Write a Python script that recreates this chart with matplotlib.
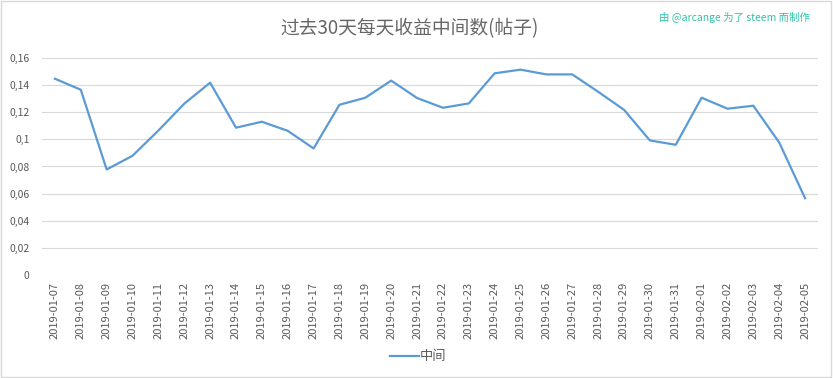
import numpy as np
import matplotlib.pyplot as plt
from matplotlib.ticker import FuncFormatter
from matplotlib.patches import Rectangle

plt.rcParams['font.family'] = ['Noto Sans CJK SC', 'DejaVu Sans']

# data
dates = ['2019-01-07', '2019-01-08', '2019-01-09', '2019-01-10', '2019-01-11',
         '2019-01-12', '2019-01-13', '2019-01-14', '2019-01-15', '2019-01-16',
         '2019-01-17', '2019-01-18', '2019-01-19', '2019-01-20', '2019-01-21',
         '2019-01-22', '2019-01-23', '2019-01-24', '2019-01-25', '2019-01-26',
         '2019-01-27', '2019-01-28', '2019-01-29', '2019-01-30', '2019-01-31',
         '2019-02-01', '2019-02-02', '2019-02-03', '2019-02-04', '2019-02-05']
median = [0.1447, 0.1366, 0.0778, 0.0879, 0.1065, 0.1263, 0.1418, 0.1086,
          0.1130, 0.1063, 0.0933, 0.1255, 0.1307, 0.1433, 0.1305, 0.1233,
          0.1265, 0.1487, 0.1514, 0.1479, 0.1479, 0.1351, 0.1218, 0.0992,
          0.0960, 0.1307, 0.1226, 0.1248, 0.0977, 0.0566]

title = '过去30天每天收益中间数(帖子)'
credit = '由 @arcange 为了 steem 而制作'
series_name = '中间'

text_gray = '#595959'
grid_gray = '#d9d9d9'

fig = plt.figure(figsize=(8.33, 3.78), dpi=100)
ax = fig.add_axes([0.0504, 0.2725, 0.9316, 0.5741])

x = np.arange(len(dates))
ax.plot(x, median, color='#5b9bd5', linewidth=1.6, label=series_name)

ax.set_xlim(-0.5, len(dates) - 0.5)
ax.set_ylim(0, 0.16)
ax.set_yticks(np.arange(0, 0.161, 0.02))
ax.yaxis.set_major_formatter(FuncFormatter(
    lambda v, p: '0' if abs(v) < 1e-9 else ('%g' % round(v, 2)).replace('.', ',')))
ax.set_xticks(x)
ax.set_xticklabels(dates, rotation=90)
ax.tick_params(axis='both', length=0, colors=text_gray, labelsize=7.5)
ax.tick_params(axis='x', labelsize=8, pad=5)
ax.tick_params(axis='y', pad=9)
for s in ax.spines.values():
    s.set_visible(False)
ax.grid(axis='y', color=grid_gray, linewidth=0.8)
ax.set_axisbelow(True)

fig.text(0.492, 0.925, title, ha='center', va='center', fontsize=13.5, color='#666666')
fig.text(0.972, 0.955, credit, ha='right', va='center', fontsize=7.5, color='#2ec4a6')

fig.legend(loc='center', bbox_to_anchor=(0.502, 0.056), frameon=False,
           fontsize=9.5, handlelength=2.2, handletextpad=0.1, labelcolor=text_gray)

fig.patches.append(Rectangle((0.001, 0.002), 0.997, 0.995, transform=fig.transFigure,
                             fill=False, edgecolor=grid_gray, linewidth=1))

fig.savefig('out.png', dpi=100, facecolor='white')
